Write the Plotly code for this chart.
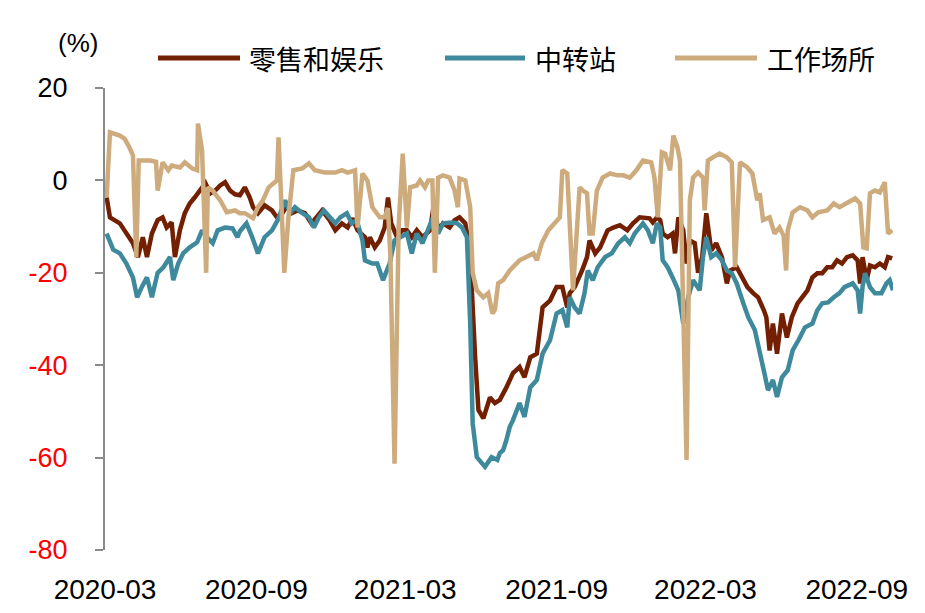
import plotly.graph_objects as go

# ---------------- data ----------------
series_names = ["零售和娱乐", "中转站", "工作场所"]
series_colors = ["#732002", "#3E8A9C", "#CDAB7D"]

retail_dates = [
    "2020-03-03", "2020-03-07", "2020-03-19", "2020-03-27", "2020-04-04", "2020-04-10", "2020-04-16",
    "2020-04-21", "2020-04-27", "2020-05-04", "2020-05-10", "2020-05-15", "2020-05-21", "2020-05-25",
    "2020-05-31", "2020-06-06", "2020-06-12", "2020-06-18", "2020-06-24", "2020-07-01", "2020-07-07",
    "2020-07-13", "2020-07-19", "2020-07-25", "2020-07-31", "2020-08-06", "2020-08-12", "2020-08-18",
    "2020-08-24", "2020-08-28", "2020-09-03", "2020-09-11", "2020-09-20", "2020-09-26", "2020-10-03",
    "2020-10-08", "2020-10-14", "2020-10-21", "2020-10-30", "2020-11-07", "2020-11-13", "2020-11-20",
    "2020-11-29", "2020-12-06", "2020-12-14", "2020-12-21", "2020-12-27", "2021-01-02", "2021-01-11",
    "2021-01-14", "2021-01-17", "2021-01-23", "2021-01-29", "2021-02-04", "2021-02-08", "2021-02-12",
    "2021-02-19", "2021-02-25", "2021-03-03", "2021-03-09", "2021-03-15", "2021-03-22", "2021-03-31",
    "2021-04-05", "2021-04-10", "2021-04-16", "2021-04-24", "2021-04-30", "2021-05-06", "2021-05-13",
    "2021-05-16", "2021-05-21", "2021-05-25", "2021-05-29", "2021-06-04", "2021-06-12", "2021-06-18",
    "2021-06-24", "2021-07-02", "2021-07-10", "2021-07-18", "2021-07-24", "2021-07-31", "2021-08-08",
    "2021-08-12", "2021-08-15", "2021-08-24", "2021-09-01", "2021-09-08", "2021-09-14", "2021-09-17",
    "2021-09-23", "2021-10-02", "2021-10-08", "2021-10-11", "2021-10-18", "2021-10-24", "2021-11-02",
    "2021-11-09", "2021-11-17", "2021-11-26", "2021-12-03", "2021-12-11", "2021-12-15", "2021-12-23",
    "2021-12-27", "2022-01-01", "2022-01-05", "2022-01-08", "2022-01-14", "2022-01-20", "2022-01-23",
    "2022-01-27", "2022-02-02", "2022-02-06", "2022-02-10", "2022-02-16", "2022-02-20", "2022-02-25",
    "2022-03-02", "2022-03-08", "2022-03-14", "2022-03-21", "2022-03-27", "2022-03-31", "2022-04-08",
    "2022-04-15", "2022-04-21", "2022-04-28", "2022-05-04", "2022-05-11", "2022-05-14", "2022-05-18",
    "2022-05-22", "2022-05-27", "2022-06-02", "2022-06-08", "2022-06-14", "2022-06-21", "2022-06-27",
    "2022-07-03", "2022-07-09", "2022-07-15", "2022-07-21", "2022-07-27", "2022-08-02", "2022-08-08",
    "2022-08-14", "2022-08-20", "2022-08-27", "2022-09-02", "2022-09-05", "2022-09-08", "2022-09-13",
    "2022-09-17", "2022-09-23", "2022-09-29", "2022-10-05", "2022-10-09", "2022-10-14",
]
retail_values = [
    -3.7, -8.0, -9.3, -11.5, -13.6, -16.6, -12.3,
    -16.6, -11.5, -8.6, -8.0, -10.2, -9.1, -16.6,
    -10.8, -7.1, -5.0, -3.7, -2.2, -0.6, -2.8,
    -2.2, -1.1, -0.4, -2.2, -3.0, -3.2, -1.5,
    -3.7, -5.8, -7.1, -5.4, -6.5, -8.0, -7.0,
    -5.5, -7.1, -6.5, -7.1, -9.3, -8.0, -6.5,
    -8.6, -10.8, -9.3, -10.2, -8.2, -10.8, -12.3,
    -14.5, -12.3, -14.5, -13.0, -10.2, -3.7, -9.3,
    -12.3, -10.8, -10.8, -12.3, -10.8, -12.3, -10.8,
    -5.0, -10.8, -9.3, -10.2, -8.6, -8.0, -9.3,
    -12.3, -23.8, -38.3, -49.7, -51.5, -47.0, -48.2,
    -47.5, -44.8, -41.7, -40.4, -42.6, -38.3, -37.5,
    -31.8, -27.5, -26.0, -23.1, -23.1, -27.5, -24.4,
    -23.1, -19.5, -16.6, -13.0, -15.8, -14.5, -10.8,
    -10.2, -9.7, -10.8, -9.3, -8.0, -8.0, -8.2,
    -9.1, -8.0, -8.6, -11.5, -12.3, -11.5, -15.8,
    -8.0, -10.8, -18.0, -13.0, -13.6, -20.0, -16.6,
    -7.1, -15.2, -13.6, -16.6, -22.3, -19.5, -18.8,
    -21.0, -23.1, -24.4, -25.3, -28.1, -29.6, -36.8,
    -31.0, -37.5, -28.8, -34.0, -29.6, -26.6, -25.3,
    -23.8, -21.0, -20.1, -20.1, -18.8, -18.8, -17.3,
    -18.0, -16.6, -16.2, -17.3, -22.3, -16.6, -21.6,
    -18.4, -18.8, -18.0, -18.8, -16.6, -16.9,
]

transit_dates = [
    "2020-03-03", "2020-03-11", "2020-03-19", "2020-03-27", "2020-04-04", "2020-04-09", "2020-04-15",
    "2020-04-21", "2020-04-27", "2020-05-04", "2020-05-11", "2020-05-19", "2020-05-23", "2020-05-29",
    "2020-06-04", "2020-06-12", "2020-06-21", "2020-06-27", "2020-07-03", "2020-07-10", "2020-07-16",
    "2020-07-25", "2020-08-03", "2020-08-09", "2020-08-12", "2020-08-20", "2020-08-27", "2020-09-03",
    "2020-09-11", "2020-09-20", "2020-09-27", "2020-10-06", "2020-10-12", "2020-10-18", "2020-10-27",
    "2020-11-04", "2020-11-10", "2020-11-16", "2020-11-22", "2020-11-29", "2020-12-06", "2020-12-12",
    "2020-12-20", "2020-12-26", "2021-01-01", "2021-01-08", "2021-01-11", "2021-01-20", "2021-01-26",
    "2021-02-02", "2021-02-10", "2021-02-16", "2021-02-23", "2021-03-03", "2021-03-09", "2021-03-15",
    "2021-03-22", "2021-03-31", "2021-04-06", "2021-04-10", "2021-04-16", "2021-04-27", "2021-05-03",
    "2021-05-09", "2021-05-15", "2021-05-19", "2021-05-22", "2021-05-27", "2021-06-06", "2021-06-14",
    "2021-06-21", "2021-06-24", "2021-06-28", "2021-07-02", "2021-07-06", "2021-07-10", "2021-07-18",
    "2021-07-24", "2021-07-31", "2021-08-08", "2021-08-15", "2021-08-24", "2021-09-01", "2021-09-08",
    "2021-09-14", "2021-09-17", "2021-09-23", "2021-09-29", "2021-10-05", "2021-10-09", "2021-10-15",
    "2021-10-21", "2021-10-30", "2021-11-07", "2021-11-15", "2021-11-23", "2021-11-29", "2021-12-05",
    "2021-12-11", "2021-12-15", "2021-12-21", "2021-12-27", "2022-01-01", "2022-01-05", "2022-01-08",
    "2022-01-14", "2022-01-20", "2022-01-27", "2022-02-02", "2022-02-08", "2022-02-14", "2022-02-22",
    "2022-02-26", "2022-03-02", "2022-03-08", "2022-03-14", "2022-03-21", "2022-03-27", "2022-04-02",
    "2022-04-08", "2022-04-16", "2022-04-22", "2022-04-30", "2022-05-06", "2022-05-12", "2022-05-16",
    "2022-05-22", "2022-05-27", "2022-06-02", "2022-06-09", "2022-06-15", "2022-06-22", "2022-06-30",
    "2022-07-09", "2022-07-15", "2022-07-21", "2022-07-28", "2022-08-04", "2022-08-11", "2022-08-17",
    "2022-08-27", "2022-09-02", "2022-09-05", "2022-09-08", "2022-09-11", "2022-09-17", "2022-09-23",
    "2022-10-01", "2022-10-07", "2022-10-11", "2022-10-15",
]
transit_values = [
    -11.5, -15.0, -15.8, -18.0, -21.0, -25.3, -23.0,
    -21.0, -25.3, -20.0, -18.8, -16.6, -21.6, -18.0,
    -15.8, -14.5, -13.4, -10.8, -12.3, -13.6, -10.8,
    -10.2, -10.4, -12.3, -11.0, -9.3, -12.3, -15.8,
    -12.3, -10.8, -8.6, -4.3, -7.1, -5.8, -7.1,
    -8.0, -10.2, -8.0, -6.5, -8.0, -9.3, -8.0,
    -7.1, -9.3, -8.6, -13.0, -17.3, -18.0, -18.0,
    -21.6, -18.0, -13.0, -12.3, -11.5, -15.8, -11.5,
    -13.6, -9.3, -7.1, -11.5, -9.3, -9.1, -9.3,
    -10.2, -12.3, -31.0, -52.6, -59.9, -62.0, -59.9,
    -60.5, -59.0, -58.4, -56.2, -53.4, -51.9, -48.2,
    -51.2, -44.8, -43.2, -37.5, -34.6, -28.8, -28.1,
    -31.8, -25.3, -27.5, -28.8, -24.4, -19.5, -21.6,
    -18.8, -16.6, -15.8, -13.6, -12.3, -13.6, -11.5,
    -10.2, -9.3, -10.8, -13.6, -9.3, -10.2, -17.3,
    -18.8, -21.0, -23.8, -31.0, -25.3, -21.6, -23.8,
    -16.6, -12.3, -16.6, -15.8, -17.3, -19.5, -20.1,
    -22.3, -26.6, -29.6, -32.4, -36.8, -42.0, -45.4,
    -43.2, -46.9, -42.6, -41.1, -36.8, -34.6, -31.8,
    -31.0, -28.1, -26.6, -26.4, -25.3, -24.4, -23.1,
    -22.3, -23.8, -28.8, -23.0, -20.1, -23.1, -24.4,
    -24.4, -22.3, -21.6, -23.8,
]

work_dates = [
    "2020-03-03", "2020-03-07", "2020-03-19", "2020-03-25", "2020-03-31", "2020-04-04", "2020-04-08",
    "2020-04-11", "2020-04-25", "2020-05-02", "2020-05-04", "2020-05-10", "2020-05-17", "2020-05-21",
    "2020-05-31", "2020-06-06", "2020-06-15", "2020-06-21", "2020-06-22", "2020-06-27", "2020-07-02",
    "2020-07-04", "2020-07-10", "2020-07-19", "2020-07-27", "2020-08-06", "2020-08-12", "2020-08-18",
    "2020-08-28", "2020-09-03", "2020-09-09", "2020-09-16", "2020-09-22", "2020-09-26", "2020-09-28",
    "2020-10-05", "2020-10-10", "2020-10-16", "2020-10-27", "2020-11-04", "2020-11-11", "2020-11-23",
    "2020-12-06", "2020-12-14", "2020-12-21", "2020-12-30", "2021-01-02", "2021-01-08", "2021-01-14",
    "2021-01-20", "2021-01-29", "2021-02-04", "2021-02-08", "2021-02-11", "2021-02-16", "2021-02-21",
    "2021-02-26", "2021-03-03", "2021-03-07", "2021-03-15", "2021-03-19", "2021-03-25", "2021-03-29",
    "2021-04-03", "2021-04-06", "2021-04-10", "2021-04-16", "2021-04-24", "2021-04-30", "2021-05-04",
    "2021-05-06", "2021-05-13", "2021-05-19", "2021-05-22", "2021-05-27", "2021-06-04", "2021-06-10",
    "2021-06-15", "2021-06-18", "2021-06-22", "2021-06-28", "2021-07-06", "2021-07-18", "2021-07-27",
    "2021-08-04", "2021-08-08", "2021-08-14", "2021-08-22", "2021-08-30", "2021-09-05", "2021-09-08",
    "2021-09-14", "2021-09-21", "2021-09-26", "2021-09-29", "2021-10-03", "2021-10-08", "2021-10-11",
    "2021-10-15", "2021-10-20", "2021-10-27", "2021-11-05", "2021-11-14", "2021-11-21", "2021-11-29",
    "2021-12-07", "2021-12-15", "2021-12-25", "2021-12-29", "2022-01-02", "2022-01-07", "2022-01-11",
    "2022-01-17", "2022-01-21", "2022-01-26", "2022-01-29", "2022-02-02", "2022-02-06", "2022-02-10",
    "2022-02-14", "2022-02-20", "2022-02-26", "2022-02-28", "2022-03-04", "2022-03-10", "2022-03-18",
    "2022-03-27", "2022-04-02", "2022-04-06", "2022-04-12", "2022-04-21", "2022-04-27", "2022-05-03",
    "2022-05-06", "2022-05-10", "2022-05-18", "2022-05-24", "2022-05-30", "2022-06-04", "2022-06-07",
    "2022-06-09", "2022-06-15", "2022-06-24", "2022-07-03", "2022-07-09", "2022-07-16", "2022-07-27",
    "2022-08-04", "2022-08-11", "2022-08-20", "2022-08-30", "2022-09-05", "2022-09-09", "2022-09-13",
    "2022-09-17", "2022-09-23", "2022-09-29", "2022-10-05", "2022-10-09", "2022-10-14",
]
work_values = [
    -3.7, 10.4, 9.7, 9.0, 7.0, 5.4, -16.6,
    4.3, 4.3, 4.0, -2.2, 3.9, 2.2, 3.2,
    2.8, 3.9, 2.6, 2.2, 12.3, 6.5, -20.0,
    -1.5, -2.2, -4.3, -6.9, -6.5, -7.1, -7.1,
    -8.2, -5.8, -4.3, -1.5, -0.6, 0.0, 9.3,
    -20.0, -8.0, 2.2, 2.6, 3.7, 2.2, 1.7,
    1.7, 2.2, 1.7, 2.2, -10.2, 1.5, 0.0,
    -5.8, -8.0, -8.0, -6.0, -16.6, -61.3, -10.0,
    5.8, -10.2, -1.5, -1.1, 0.0, -1.5, 0.0,
    0.0, -20.0, 0.6, 1.1, 0.6, -2.2, -5.8,
    0.4, 0.0, -5.8, -20.0, -23.8, -25.3, -24.4,
    -28.8, -28.0, -22.3, -21.6, -19.5, -17.3, -16.6,
    -15.8, -17.3, -13.6, -10.8, -9.3, -8.0, 2.2,
    1.5, -23.8, -8.0, -1.5, -2.2, -2.8, -11.5,
    -11.5, -2.2, 0.6, 1.5, 1.1, 1.1, 0.6,
    2.2, 4.3, 3.9, 0.6, -8.0, 6.1, 5.8,
    2.2, 9.7, 7.1, 4.3, -30.0, -60.5, -4.3,
    0.6, 1.7, 0.6, -6.5, 4.3, 5.0, 5.8,
    5.0, 3.9, -18.8, 3.9, 2.8, 1.5, -4.3,
    -2.8, -8.6, -8.0, -11.5, -10.2, -12.0, -19.5,
    -10.8, -6.9, -5.8, -6.5, -8.0, -6.9, -6.5,
    -5.0, -5.8, -4.8, -3.9, -5.0, -14.5, -14.7,
    -2.8, -2.2, -2.6, -0.4, -11.5, -10.8,
]

x_tick_vals = ["2020-03-01", "2020-09-01", "2021-03-01", "2021-09-01", "2022-03-01", "2022-09-01"]
x_tick_text = ["2020-03", "2020-09", "2021-03", "2021-09", "2022-03", "2022-09"]
x_range = ["2020-03-01", "2022-10-15"]
y_tick_vals = [20, 0, -20, -40, -60, -80]
y_range = [-80, 20]
y_unit = "(%)"

# ---------------- figure ----------------
AXIS_GRAY = "#8A8A8A"
LATIN = "Liberation Sans, Arial, sans-serif"
CJK = "Noto Sans CJK SC, sans-serif"

all_dates = [retail_dates, transit_dates, work_dates]
all_values = [retail_values, transit_values, work_values]

fig = go.Figure()
for name, color, xs, ys in zip(series_names, series_colors, all_dates, all_values):
    fig.add_trace(go.Scatter(x=xs, y=ys, mode="lines", name=name,
                             line=dict(color=color, width=4.5), showlegend=False))

# y tick labels: negatives in red
y_tick_text = [str(v) if v >= 0 else f'<span style="color:#FF0000">{v}</span>' for v in y_tick_vals]

# target page geometry (the html body adds an 8px margin around the figure)
PAGE_OFF = 8
W, H = 925 - PAGE_OFF, 613 - PAGE_OFF
plot_left, plot_right, plot_top, plot_bottom = 105, 893, 88, 550  # in page pixels
L = plot_left - PAGE_OFF
T = plot_top - PAGE_OFF
R = W - (plot_right - PAGE_OFF)
B = H - (plot_bottom - PAGE_OFF)
pw, ph = W - L - R, H - T - B


def px(xpage):
    return (xpage - plot_left) / pw


def py(ypage):
    return (plot_bottom - ypage) / ph


zero_pos = (0 - y_range[0]) / (y_range[1] - y_range[0])

fig.update_layout(
    width=W, height=H,
    margin=dict(l=L, r=R, t=T, b=B, pad=0, autoexpand=False),
    paper_bgcolor="white", plot_bgcolor="white",
    showlegend=False,
    xaxis=dict(
        type="date", range=x_range, tickvals=x_tick_vals, ticktext=x_tick_text,
        showgrid=False, zeroline=False, showline=False, automargin=False,
        ticks="outside", ticklen=14, tickcolor="rgba(0,0,0,0)",
        tickfont=dict(family=LATIN, size=28, color="black"),
    ),
    xaxis2=dict(
        type="date", range=x_range, overlaying="x", matches="x", anchor="free", position=zero_pos,
        tickvals=x_tick_vals, showticklabels=False, showgrid=False, zeroline=False,
        showline=True, linecolor=AXIS_GRAY, linewidth=2, automargin=False,
        ticks="outside", ticklen=7, tickwidth=2, tickcolor=AXIS_GRAY,
    ),
    yaxis=dict(
        range=y_range, tickvals=y_tick_vals, ticktext=y_tick_text,
        showgrid=False, zeroline=False, automargin=False,
        showline=True, linecolor=AXIS_GRAY, linewidth=2,
        ticks="outside", ticklen=8, tickwidth=2, tickcolor=AXIS_GRAY,
        ticklabelstandoff=22,
        tickfont=dict(family=LATIN, size=27, color="black"),
    ),
)

# unit label
fig.add_annotation(text=y_unit, xref="paper", yref="paper", x=px(78), y=py(43),
                   xanchor="center", yanchor="middle", showarrow=False,
                   font=dict(family=LATIN, size=26, color="black"))

# legend drawn manually (line sample + text)
legend_line_x = [(158, 240), (445, 525), (675, 757)]
legend_text_x = [247, 533, 765]
legend_y = 58
for name, color, (x0, x1), tx in zip(series_names, series_colors, legend_line_x, legend_text_x):
    fig.add_shape(type="line", xref="paper", yref="paper",
                  x0=px(x0), x1=px(x1), y0=py(legend_y), y1=py(legend_y),
                  line=dict(color=color, width=5))
    fig.add_annotation(text=name, xref="paper", yref="paper", x=px(tx), y=py(legend_y),
                       xanchor="left", yanchor="middle", showarrow=False,
                       font=dict(family=CJK, size=27, color="black"))

fig.write_html("out.html")
